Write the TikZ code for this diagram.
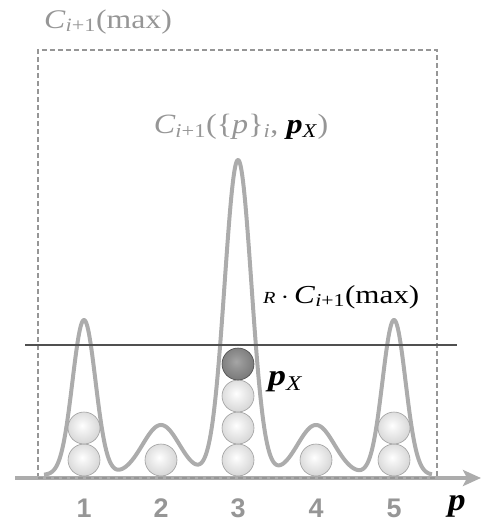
\documentclass[tikz,border=0pt]{standalone}
\usepackage{fontspec}
\setmainfont{Liberation Serif}
\newfontfamily\digitfont{Liberation Sans}
\usetikzlibrary{arrows.meta}
\definecolor{txtgray}{RGB}{150,150,150}
\definecolor{curvegray}{RGB}{172,172,172}
\definecolor{linegray}{RGB}{80,80,80}
\definecolor{boxgray}{RGB}{150,150,150}
\newcommand\msub[1]{\textsubscript{#1}}
\newcommand\widen[2][1.2]{\scalebox{#1}[1]{#2}}
\pgfdeclareradialshading{lightball}{\pgfpoint{-3bp}{4bp}}{color(0bp)=(white); color(8bp)=(gray!10); color(30bp)=(gray!35); color(48bp)=(gray!58); color(70bp)=(gray!58)}
\pgfdeclareradialshading{darkball}{\pgfpoint{-3bp}{4bp}}{color(0bp)=(black!35); color(10bp)=(black!42); color(32bp)=(black!55); color(48bp)=(black!68); color(70bp)=(black!68)}
\begin{document}
\begin{tikzpicture}[x=10bp,y=-10bp,
  declare function={g(\t,\m,\s)=exp(-min(((\t-\m)/\s)^2/2,30));},
  ballnode/.style={circle,minimum size=32bp,inner sep=0pt,draw=gray!75,line width=0.6bp,shading=lightball},
  darknode/.style={ballnode,draw=black!70,shading=darkball},
  digit/.style={font=\digitfont\bfseries\fontsize{27}{27}\selectfont,text=txtgray},
  bigmath/.style={font=\fontsize{26}{26}\selectfont,inner sep=0pt}]
\useasboundingbox (0,0) rectangle (48.1,52.4);
% dashed box
\draw[boxgray,line width=1.2bp,dash pattern=on 5bp off 3bp] (3.8,47.8) rectangle (43.7,5.0);
% axis
\coordinate (axs) at (1.5,47.8);
\coordinate (axe) at (48.1,47.8);
\draw[curvegray,line width=4bp,-{Stealth[length=18bp,width=16bp,inset=4bp]}] (axs) -- (axe);
\draw[boxgray,line width=1.2bp,dash pattern=on 5bp off 3bp] (3.8,47.8) -- (43.7,47.8);
% curve
\draw[curvegray,line width=4bp,line join=round] plot[domain=4.4:43.2,samples=500]
  (\x,{47.5-(15.5*g(\x,8.4,1.15)+5.0*g(\x,16.1,1.85)+31.5*g(\x,23.8,1.34)+5.0*g(\x,31.6,1.85)+15.5*g(\x,39.4,1.15))});
% horizontal line
\coordinate (hl) at (2.5,34.5);
\coordinate (hr) at (45.7,34.5);
\draw[linegray,line width=2bp] (hl) -- (hr);
% balls
\node[ballnode] (b11) at (8.4,46.0) {};
\node[ballnode] (b12) at (8.4,42.8) {};
\node[ballnode] (b21) at (16.1,46.0) {};
\node[ballnode] (b31) at (23.8,46.0) {};
\node[ballnode] (b32) at (23.8,42.8) {};
\node[ballnode] (b33) at (23.8,39.6) {};
\node[darknode] (b34) at (23.8,36.4) {};
\node[ballnode] (b41) at (31.6,46.0) {};
\node[ballnode] (b51) at (39.4,46.0) {};
\node[ballnode] (b52) at (39.4,42.8) {};
% digits
\node[digit] (d1) at (8.4,50.8) {1};
\node[digit] (d2) at (16.1,50.8) {2};
\node[digit] (d3) at (23.8,50.8) {3};
\node[digit] (d4) at (31.6,50.8) {4};
\node[digit] (d5) at (39.4,50.8) {5};
\node[bigmath,font=\fontsize{32}{32}\selectfont,anchor=base west] (paxis) at (44.8,51.0) {\widen[1.1]{\textbf{\textit{p}}}};
% labels
\node[bigmath,font=\fontsize{27}{27}\selectfont,anchor=base west,text=txtgray] (cmax) at (4.4,2.8) {\widen[1.18]{\textit{C}\msub{\textit{i}+1}(max)}};
\node[bigmath,font=\fontsize{28}{28}\selectfont,anchor=base,text=txtgray] (ctop) at (24.1,13.3)
  {\widen[1.15]{\textit{C}\msub{\textit{i}+1}(\{\textit{p}\}\msub{\textit{i}}, \textcolor{black}{\textbf{\textit{p}}\msub{\textit{X}}})}};
\node[bigmath,anchor=base west,text=black] (rc) at (26.3,30.3)
  {\widen{{\fontsize{17}{17}\selectfont\textit{R}}\,$\cdot$\,\textit{C}\msub{\textit{i}+1}(max)}};
\node[bigmath,font=\fontsize{30}{30}\selectfont,anchor=base west,text=black] (px) at (26.8,38.5) {\widen{\textbf{\textit{p}}\msub{\textit{X}}}};
\end{tikzpicture}
\end{document}
